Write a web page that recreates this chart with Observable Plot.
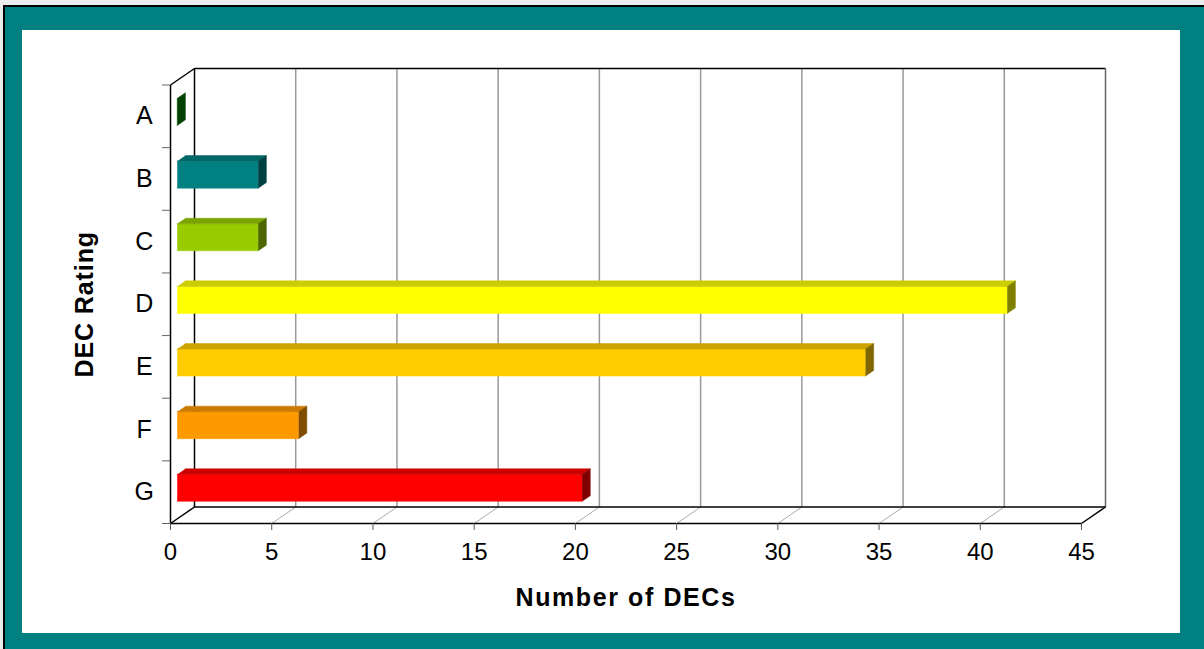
<!DOCTYPE html>
<html>
<head>
<meta charset="utf-8">
<script src="https://cdn.jsdelivr.net/npm/d3@7"></script>
<script src="https://cdn.jsdelivr.net/npm/@observablehq/plot@0.6"></script>
<style>
  html, body { margin: 0; padding: 0; background: #ececec; width: 1204px; height: 649px; overflow: hidden; }
  #frame { position: absolute; left: 3px; top: 5px; width: 1201px; height: 644px; background: #008080;
           border-left: 2px solid #000; border-top: 2px solid #000; box-sizing: border-box; }
  #panel { position: absolute; left: 22px; top: 30px; width: 1158px; height: 603px; background: #fff; }
  #chart { position: absolute; left: 0; top: 0; }
  .x-title text { letter-spacing: 1.6px; }
  .y-title text { letter-spacing: 0.9px; }
  .cat-label text { letter-spacing: 0.5px; }
</style>
</head>
<body>
<div id="frame"></div>
<div id="panel"></div>
<div id="chart"></div>
<script>
// DEC ratings and number of DECs in each band
const ratings = ["A", "B", "C", "D", "E", "F", "G"];
const counts = [0, 4, 4, 41, 34, 6, 20];
const ratingColors = ["#008000", "#008080", "#99CC00", "#FFFF00", "#FFCC00", "#FF9900", "#FF0000"];
const xTicks = [0, 5, 10, 15, 20, 25, 30, 35, 40, 45];
const xMax = 45;

// Layout (pixels)
const W = 1204, H = 649;
const mLeft = 170, mRight = 99, mTop = 68, mBottom = 126;
const depthPx = {dx: 24, dy: 16.5};          // oblique depth of the 3D box
const nCat = ratings.length;

// Express the depth offset in data units of each scale
const plotW = W - mLeft - mRight, plotH = H - mTop - mBottom;
const dX = depthPx.dx * xMax / (plotW - depthPx.dx);
const dY = depthPx.dy * nCat / (plotH - depthPx.dy);

// Bars sit between these depth fractions and band fractions
const f0 = 0.28, f1 = 0.62, b0 = 0.29, b1 = 0.72;

function shade(c, k) {
  const rgb = d3.rgb(c);
  return d3.rgb(rgb.r * k, rgb.g * k, rgb.b * k).formatHex();
}

// Polygons for the three visible faces of each bar
const faces = [];
ratings.forEach((r, i) => {
  const v = counts[i], c = ratingColors[i];
  const xs0 = f0 * dX, xe0 = v + f0 * dX, xs1 = f1 * dX, xe1 = v + f1 * dX;
  const t0 = i + b0 - f0 * dY, u0 = i + b1 - f0 * dY;
  const t1 = i + b0 - f1 * dY, u1 = i + b1 - f1 * dY;
  const add = (id, fill, pts) => pts.forEach(([x, y]) => faces.push({id: r + id, fill, x, y}));
  add("front", c, [[xs0, t0], [xe0, t0], [xe0, u0], [xs0, u0]]);
  add("top", shade(c, 0.8), [[xs0, t0], [xe0, t0], [xe1, t1], [xs1, t1]]);
  add("end", shade(c, 0.5), [[xe0, t0], [xe1, t1], [xe1, u1], [xe0, u0]]);
});

// Box edges: back wall, floor and left wall
const edges = [
  {x1: dX, y1: -dY, x2: dX, y2: nCat - dY, s: "#000"},
  {x1: dX, y1: -dY, x2: xMax + dX, y2: -dY, s: "#000"},
  {x1: xMax + dX, y1: -dY, x2: xMax + dX, y2: nCat - dY, s: "#666"},
  {x1: dX, y1: nCat - dY, x2: xMax + dX, y2: nCat - dY, s: "#000"},
  {x1: 0, y1: nCat, x2: xMax, y2: nCat, s: "#000"},
  {x1: xMax, y1: nCat, x2: xMax + dX, y2: nCat - dY, s: "#000"},
  {x1: 0, y1: 0, x2: 0, y2: nCat, s: "#000"},
  {x1: 0, y1: 0, x2: dX, y2: -dY, s: "#000"},
  {x1: 0, y1: nCat, x2: dX, y2: nCat - dY, s: "#000"}
];
const inner = xTicks.filter(t => t > 0 && t < xMax);

const chart = Plot.plot({
  width: W, height: H,
  marginLeft: mLeft, marginRight: mRight, marginTop: mTop, marginBottom: mBottom,
  style: {background: "transparent", fontFamily: "'Liberation Sans', Arial, sans-serif", fontSize: "24px", color: "#000", overflow: "visible"},
  x: {domain: [0, xMax + dX], axis: null},
  y: {domain: [nCat, -dY], axis: null},
  color: {type: "identity"},
  marks: [
    // grid on the back wall and floor
    Plot.link(inner, {x1: d => d + dX, y1: -dY, x2: d => d + dX, y2: nCat - dY, stroke: "#999", strokeWidth: 1.5}),
    Plot.link(inner, {x1: d => d, y1: nCat, x2: d => d + dX, y2: nCat - dY, stroke: "#aaa", strokeWidth: 1}),
    Plot.link(edges, {x1: "x1", y1: "y1", x2: "x2", y2: "y2", stroke: "s", strokeWidth: 1.5}),
    // ticks
    Plot.axisX({ticks: xTicks, tickSize: 7, tickPadding: 12, fontSize: 24, stroke: "#555", label: null}),
    Plot.axisY({ticks: d3.range(0, nCat + 1), tickSize: 8, tickFormat: () => "", stroke: "#666", label: null}),
    // bars
    Plot.line(faces, {x: "x", y: "y", z: "id", fill: "fill", stroke: "fill", strokeWidth: 0.5}),
    // category labels
    Plot.text(ratings, {x: 0, y: (d, i) => i + 0.5, dx: -26, text: d => d, textAnchor: "middle", fontSize: 25, className: "cat-label"}),
    // axis titles
    Plot.text(["Number of DECs"], {x: xMax / 2, y: nCat, dy: 74, text: d => d, fontWeight: "bold", fontSize: 25, className: "x-title"}),
    Plot.text(["DEC Rating"], {x: 0, y: nCat / 2, dx: -86, text: d => d, rotate: -90, fontWeight: "bold", fontSize: 25, className: "y-title"})
  ]
});
document.getElementById("chart").appendChild(chart);
</script>
</body>
</html>
